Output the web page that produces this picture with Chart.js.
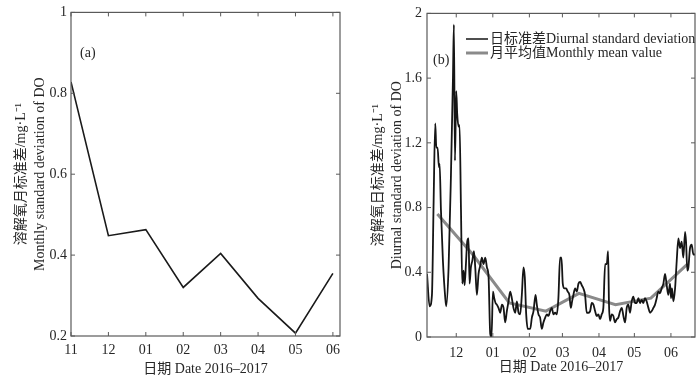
<!DOCTYPE html>
<html>
<head>
<meta charset="utf-8">
<title>DO standard deviation</title>
<script src="https://cdn.jsdelivr.net/npm/chart.js@4"></script>
<style>
  body { margin: 0; background: #fff; }
  #wrap { position: relative; width: 700px; height: 380px; }
  canvas { position: absolute; top: 0; }
  #chartA { left: 0; }
  #chartB { left: 350px; }
</style>
</head>
<body>
<div id="wrap">
  <canvas id="chartA" width="350" height="380"></canvas>
  <canvas id="chartB" width="350" height="380"></canvas>
</div>
<script>
// panel (a): monthly standard deviation
const monthLabelsA = ['11', '12', '01', '02', '03', '04', '05', '06'];
const monthlyStd = [0.828, 0.448, 0.463, 0.320, 0.404, 0.293, 0.207, 0.355];

// panel (b): daily standard deviation, x = days since 1 Nov 2016
const monthLabelsB = ['12', '01', '02', '03', '04', '05', '06'];
const monthStartDays = [30, 61, 92, 120, 151, 181, 212];
const dailyDays = [
  5.2, 7.4, 9.4, 10.8, 12.2, 13.1, 14.2, 15.3, 15.9, 17.0,
  18.7, 20.7, 21.5, 23.5, 25.5, 27.2, 28.0, 28.9, 30.0, 30.8,
  32.0, 32.8, 34.0, 35.1, 36.2, 37.1, 38.2, 39.3, 40.4, 41.3,
  42.4, 43.6, 45.0, 46.1, 47.5, 48.9, 50.3, 51.7, 53.1, 54.6,
  56.0, 57.4, 58.8, 59.9, 61.1, 62.2, 63.3, 64.4, 65.8, 67.3,
  68.7, 70.1, 71.5, 72.9, 74.3, 75.7, 77.1, 78.5, 80.0, 81.4,
  82.8, 84.2, 85.6, 87.0, 88.1, 89.3, 90.7, 92.7, 94.1, 95.5,
  97.2, 98.3, 99.7, 101.1, 102.5, 103.9, 105.4, 106.8, 108.2, 109.6,
  111.0, 112.4, 113.8, 115.2, 116.6, 118.0, 119.2, 120.3, 121.7, 123.1,
  124.5, 125.9, 127.1, 128.2, 129.3, 130.8, 132.2, 133.6, 135.0, 136.4,
  137.8, 139.2, 140.6, 142.1, 143.5, 144.9, 146.3, 147.7, 149.1, 150.5,
  151.9, 153.3, 154.7, 156.2, 157.6, 158.7, 159.5, 160.4, 161.8, 163.2,
  164.6, 166.0, 167.4, 168.9, 170.3, 171.7, 173.1, 174.5, 175.9, 177.3,
  178.7, 180.1, 181.6, 183.0, 184.4, 185.8, 187.2, 188.6, 190.0, 191.4,
  192.9, 194.3, 195.7, 197.1, 198.5, 199.9, 201.3, 202.7, 204.1, 205.6,
  207.0, 208.4, 209.8, 211.2, 212.1, 212.9, 214.1, 215.5, 216.9, 218.3,
  219.7, 221.1, 222.5, 224.0, 224.8, 225.9, 226.8, 228.2, 229.6, 231.0,
  232.4
];
const dailyStd = [
  0.39, 0.19, 0.26, 0.83, 1.32, 1.17, 1.17, 1.05, 1.07, 0.79,
  0.47, 0.24, 0.19, 0.43, 1.00, 1.60, 1.93, 1.09, 1.52, 1.38,
  1.30, 1.31, 0.79, 0.33, 0.41, 0.32, 0.45, 0.59, 0.61, 0.33,
  0.43, 0.47, 0.53, 0.43, 0.26, 0.39, 0.44, 0.49, 0.45, 0.49,
  0.43, 0.37, 0.02, 0.00, 0.28, 0.24, 0.21, 0.20, 0.18, 0.15,
  0.20, 0.18, 0.09, 0.16, 0.22, 0.28, 0.24, 0.18, 0.15, 0.22,
  0.15, 0.14, 0.26, 0.43, 0.37, 0.14, 0.05, 0.05, 0.12, 0.16,
  0.26, 0.20, 0.14, 0.12, 0.05, 0.09, 0.12, 0.14, 0.13, 0.16,
  0.18, 0.14, 0.15, 0.14, 0.24, 0.49, 0.49, 0.33, 0.30, 0.30,
  0.28, 0.26, 0.18, 0.22, 0.26, 0.30, 0.28, 0.33, 0.34, 0.32,
  0.30, 0.26, 0.15, 0.15, 0.16, 0.21, 0.20, 0.16, 0.13, 0.14,
  0.11, 0.14, 0.18, 0.45, 0.45, 0.53, 0.20, 0.10, 0.14, 0.13,
  0.09, 0.11, 0.12, 0.16, 0.18, 0.13, 0.09, 0.18, 0.20, 0.15,
  0.22, 0.25, 0.21, 0.21, 0.24, 0.21, 0.23, 0.21, 0.24, 0.22,
  0.18, 0.15, 0.16, 0.18, 0.20, 0.24, 0.28, 0.27, 0.30, 0.33,
  0.39, 0.32, 0.26, 0.33, 0.24, 0.30, 0.22, 0.30, 0.47, 0.61,
  0.55, 0.59, 0.49, 0.65, 0.59, 0.41, 0.43, 0.55, 0.57, 0.51,
  0.51
];
const meanDays = [14, 44, 75, 106, 134, 165, 195, 226];
const monthlyMean = [0.76, 0.51, 0.21, 0.16, 0.27, 0.20, 0.24, 0.45];

const FONT = '"Liberation Serif", "Noto Sans CJK SC", serif';
const TEXT = '#262626';

// frame round the plot area, with MATLAB-style inward ticks on all sides
const framePlugin = {
    id: 'frame',
    afterDraw(chart) {
        const { ctx, chartArea: a, scales } = chart;
        ctx.save();
        ctx.strokeStyle = '#5a5a5a';
        ctx.lineWidth = 1.2;
        ctx.strokeRect(a.left, a.top, a.right - a.left, a.bottom - a.top);
        ctx.lineWidth = 1;
        ctx.beginPath();
        scales.x.ticks.forEach(t => {
            const px = scales.x.getPixelForValue(t.value);
            ctx.moveTo(px, a.bottom); ctx.lineTo(px, a.bottom - 4);
            ctx.moveTo(px, a.top); ctx.lineTo(px, a.top + 4);
        });
        scales.y.ticks.forEach(t => {
            const py = scales.y.getPixelForValue(t.value);
            ctx.moveTo(a.left, py); ctx.lineTo(a.left + 4, py);
            ctx.moveTo(a.right, py); ctx.lineTo(a.right - 4, py);
        });
        ctx.stroke();
        ctx.restore();
    }
};

// panel tag and (for b) an inside legend
const notesPlugin = {
    id: 'notes',
    afterDraw(chart, args, opts) {
        const { ctx } = chart;
        ctx.save();
        ctx.fillStyle = TEXT;
        ctx.font = '14px ' + FONT;
        ctx.textBaseline = 'middle';
        ctx.fillText(opts.tag, opts.tagX, opts.tagY);
        (opts.legend || []).forEach((item, i) => {
            const y = opts.legendY + i * 14;
            ctx.strokeStyle = item.color;
            ctx.lineWidth = item.width;
            ctx.beginPath();
            ctx.moveTo(opts.legendX, y);
            ctx.lineTo(opts.legendX + 22, y);
            ctx.stroke();
            ctx.fillText(item.text, opts.legendX + 24, y);
        });
        ctx.restore();
    }
};

const tickFont = { family: FONT, size: 14 };
const plainNumber = v => String(+v.toFixed(2));

const makeYTitle = (lines, padTop) => ({
    display: true,
    text: lines,
    color: TEXT,
    font: { family: FONT, size: 14, lineHeight: 1.36 },
    padding: { top: padTop, bottom: 0 }
});

const xTitle = (padBottom) => ({
    display: true,
    text: '日期 Date 2016–2017',
    color: TEXT,
    font: { family: FONT, size: 14 },
    padding: { top: 0, bottom: padBottom }
});

new Chart(document.getElementById('chartA'), {
    type: 'line',
    data: {
        datasets: [{
            data: monthlyStd.map((v, i) => ({ x: i, y: v })),
            borderColor: '#1a1a1a',
            borderWidth: 1.6,
            pointRadius: 0,
            tension: 0
        }]
    },
    options: {
        responsive: false,
        animation: false,
        layout: { padding: { top: 8, right: 10, left: 0, bottom: 0 } },
        plugins: {
            legend: { display: false },
            tooltip: { enabled: false },
            notes: { tag: '(a)', tagX: 80, tagY: 53 }
        },
        scales: {
            x: {
                type: 'linear',
                min: 0,
                max: 7.19,
                grid: { display: false, drawTicks: false },
                border: { display: false },
                ticks: {
                    stepSize: 1,
                    includeBounds: false,
                    maxRotation: 0,
                    padding: 6,
                    color: TEXT,
                    font: tickFont,
                    callback: v => monthLabelsA[v] ?? ''
                },
                title: xTitle(2),
                afterFit: s => { s.height = 44; }
            },
            y: {
                min: 0.2,
                max: 1,
                grid: { display: false, drawTicks: false },
                border: { display: false },
                ticks: { stepSize: 0.2, padding: 4, color: TEXT, font: tickFont, callback: plainNumber },
                title: makeYTitle(['溶解氧月标准差/mg·L⁻¹', 'Monthly standard deviation of DO'], 12),
                afterFit: s => { s.width = 71; }
            }
        }
    },
    plugins: [framePlugin, notesPlugin]
});

new Chart(document.getElementById('chartB'), {
    type: 'line',
    data: {
        datasets: [{
            data: dailyDays.map((d, i) => ({ x: d, y: dailyStd[i] })),
            borderColor: '#151515',
            borderWidth: 1.8,
            pointRadius: 0,
            cubicInterpolationMode: 'monotone'
        }, {
            data: meanDays.map((d, i) => ({ x: d, y: monthlyMean[i] })),
            borderColor: '#8a8a8a',
            borderWidth: 3,
            pointRadius: 0,
            tension: 0
        }]
    },
    options: {
        responsive: false,
        animation: false,
        layout: { padding: { top: 8, right: 5, left: 0, bottom: 0 } },
        plugins: {
            legend: { display: false },
            tooltip: { enabled: false },
            notes: {
                tag: '(b)', tagX: 83, tagY: 60,
                legendX: 116, legendY: 39,
                legend: [
                    { text: '日标准差Diurnal standard deviation', color: '#151515', width: 1.5 },
                    { text: '月平均值Monthly mean value', color: '#8a8a8a', width: 3 }
                ]
            }
        },
        scales: {
            x: {
                type: 'linear',
                min: 5.2,
                max: 232.4,
                grid: { display: false, drawTicks: false },
                border: { display: false },
                afterBuildTicks: s => { s.ticks = monthStartDays.map(d => ({ value: d })); },
                ticks: {
                    maxRotation: 0,
                    autoSkip: false,
                    padding: 8,
                    color: TEXT,
                    font: tickFont,
                    callback: v => monthLabelsB[monthStartDays.indexOf(v)] ?? ''
                },
                title: xTitle(4),
                afterFit: s => { s.height = 43; }
            },
            y: {
                min: 0,
                max: 2,
                grid: { display: false, drawTicks: false },
                border: { display: false },
                ticks: { stepSize: 0.4, padding: 5, color: TEXT, font: tickFont, callback: plainNumber },
                title: makeYTitle(['溶解氧日标准差/mg·L⁻¹', 'Diurnal standard deviation of DO'], 19),
                afterFit: s => { s.width = 77; }
            }
        }
    },
    plugins: [framePlugin, notesPlugin]
});
</script>
</body>
</html>
